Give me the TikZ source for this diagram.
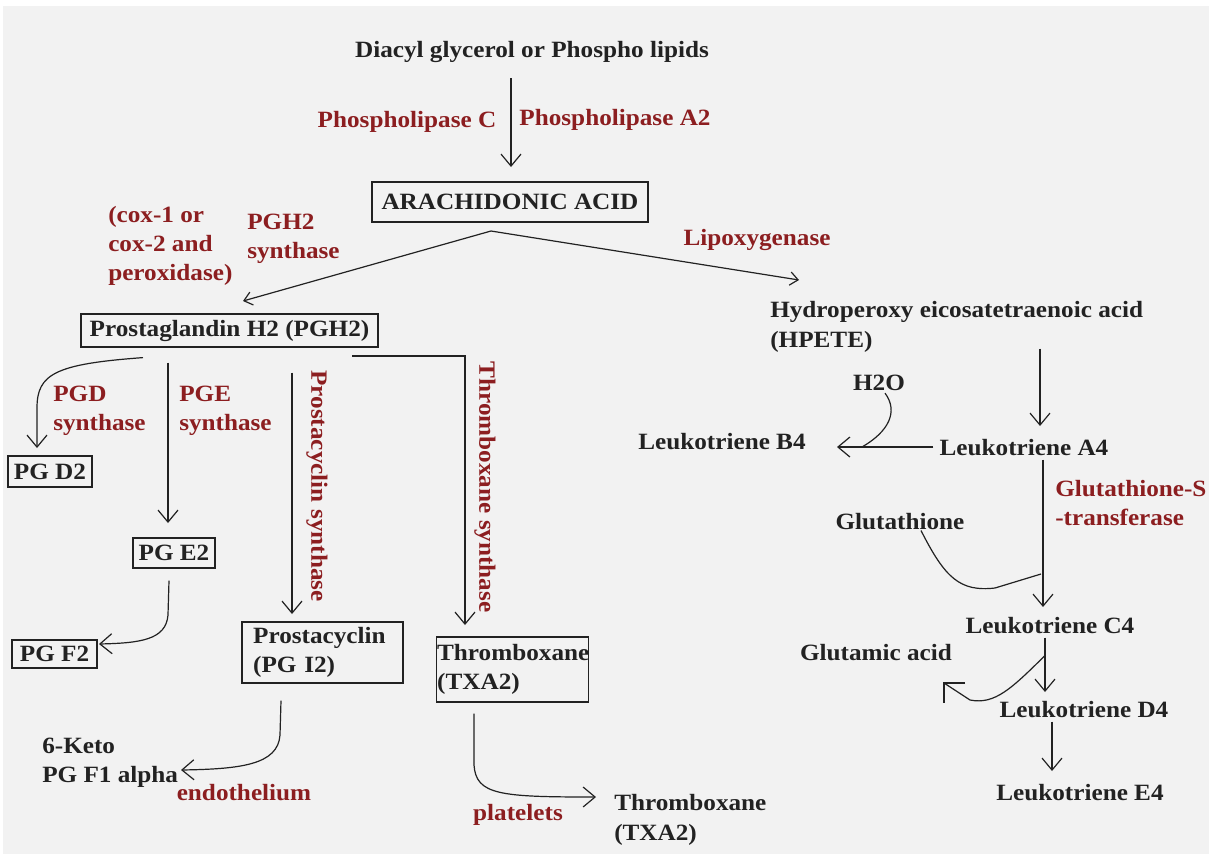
\documentclass[tikz,border=0pt]{standalone}
\usepackage{fontspec}
\setmainfont[FakeStretch=1.08]{Liberation Serif}
\usetikzlibrary{arrows.meta}
\definecolor{bgc}{RGB}{242,242,242}
\definecolor{ink}{RGB}{34,34,34}
\definecolor{enz}{RGB}{140,30,32}
\tikzset{
  lbl/.style={inner sep=0pt, text=ink, font=\fontsize{17.5}{22}\selectfont\bfseries},
  red/.style={lbl, text=enz},
  box/.style={lbl, draw=ink, line width=0.9pt},
  con/.style={draw=ink, line width=0.9pt},
  arr/.style={con, -{Straight Barb[length=9pt,width=15pt,line width=0.9pt]}},
  sarr/.style={con, -{Straight Barb[length=6pt,width=10pt,line width=0.9pt]}}
}
\begin{document}
\begin{tikzpicture}[x=0.75pt,y=-0.75pt]
\useasboundingbox (0,0) rectangle (1209,854);
\fill[bgc] (3,6) rectangle (1209,854);

% ---- top
\node[lbl] (top) at (532,52) {Diacyl glycerol or Phospho lipids};
\node[red] (plc) at (407,122) {Phospholipase C};
\node[red] (pla2) at (615,120) {Phospholipase A2};
\node[box, minimum width=207pt, minimum height=30pt] (arach) at (510,202) {ARACHIDONIC ACID};
\coordinate (topout) at (511,78);
\coordinate (arachin) at (511,167);
\draw[arr] (topout) -- (arachin);

% ---- branch
\node[red, anchor=west, align=left] (cox) at (108,246) {(cox-1 or\\cox-2 and\\peroxidase)};
\node[red, anchor=west, align=left] (pgh2s) at (247,239) {PGH2\\synthase};
\node[red] (lipox) at (757,240) {Lipoxygenase};
\node[box, minimum width=222.75pt, minimum height=24.75pt] (pgh2) at (229.5,330.5) {Prostaglandin H2 (PGH2)};
\node[lbl, anchor=west, align=left] (hpete) at (770,327) {Hydroperoxy eicosatetraenoic acid\\(HPETE)};
\coordinate (split) at (491,231);
\coordinate (pgh2in) at (243,301);
\coordinate (hpetein) at (799,280);
\draw[sarr] (split) -- (pgh2in);
\draw[sarr] (split) -- (hpetein);

% ---- prostaglandin side
\node[red, anchor=west, align=left] (pgds) at (53,411) {PGD\\synthase};
\node[red, anchor=west, align=left] (pges) at (179,411) {PGE\\synthase};
\node[red, rotate=-90] (pcs) at (317,486) {Prostacyclin synthase};
\node[red, rotate=-90] (txs) at (485,487) {Thromboxane synthase};
\node[box, minimum width=63pt, minimum height=23.25pt] (pgd2) at (50,471.5) {PG D2};
\node[box, minimum width=61.5pt, minimum height=22.5pt] (pge2) at (174,553) {PG E2};
\node[box, minimum width=63.75pt, minimum height=21pt] (pgf2) at (54.5,654) {PG F2};
\node[box, text width=104pt, inner xsep=8.4pt, minimum height=45.75pt, align=left] (pgi2) at (322.5,652.5) {Prostacyclin\\(PG I2)};
\node[box, text width=113pt, inner xsep=0.5pt, minimum height=48.75pt, align=left] (txa2) at (512.5,669.5) {Thromboxane\\(TXA2)};
\node[lbl, anchor=west, align=left] (keto) at (42,763) {6-Keto\\PG F1 alpha};
\node[red] (endo) at (244,793) {endothelium};
\node[red] (plat) at (518,815) {platelets};
\node[lbl, anchor=west, align=left] (txa2b) at (614,820) {Thromboxane\\(TXA2)};

\coordinate (pgd2in) at (37,448);
\draw[arr] (pgh2.south -| 143,0) ++(0,10) .. controls (55,364) and (37,374) .. (37,408) -- (pgd2in);
\draw[arr] (pgh2.south -| 168,0) ++(0,15) -- (168,523);
\draw[arr] (pge2.south -| 169,0) ++(0,12) -- (168,615) .. controls (166,640) and (140,643) .. (99,644);
\draw[arr] (pgh2.south -| 292,0) ++(0,25) -- (292,614);
\draw[arr] (352,356) -- (465,356) -- (465,625);
\draw[arr] (pgi2.south -| 281,0) ++(0,17) -- (280,735) .. controls (278,765) and (240,769) .. (181,770);
\draw[arr] (txa2.south -| 474,0) ++(0,11) -- (474,765) .. controls (476,795) and (500,797) .. (596,797);

% ---- leukotriene side
\node[lbl] (h2o) at (879,383) {H2O};
\node[lbl] (ltb4) at (722,442) {Leukotriene B4};
\node[lbl] (lta4) at (1024,448) {Leukotriene A4};
\node[red, anchor=west, align=left] (gst) at (1055,503) {Glutathione-S\\-transferase};
\node[lbl] (glut) at (900,522) {Glutathione};
\node[lbl] (ltc4) at (1050,626) {Leukotriene C4};
\node[lbl] (glu) at (876,653) {Glutamic acid};
\node[lbl] (ltd4) at (1084,710) {Leukotriene D4};
\node[lbl] (lte4) at (1080,793) {Leukotriene E4};

\draw[arr] (hpete.south -| 1040,0) ++(0,-4) -- (1040,426);
\draw[arr] (lta4.west) ++(-6,-1) -- (837,447);
\draw[con] (h2o.south) ++(6,2) .. controls (899,412) and (888,432) .. (862,447);
\draw[arr] (lta4.south -| 1043,0) ++(0,3) -- (1043,607);
\draw[con] (glut.south) ++(21,0) .. controls (945,578) and (960,592) .. (995,588) -- (1041,574);
\draw[arr] (ltc4.south -| 1045,0) ++(0,3) -- (1045,692);
\coordinate (glutip) at (944,683);
\draw[con] (ltc4.south -| 1045,0) ++(0,21) .. controls (1012,688) and (995,705) .. (970,700) -- (glutip);
\draw[con] (glutip) ++(21,0) -- (glutip) -- ++(0,20);
\draw[arr] (ltd4.south -| 1052,0) ++(0,3) -- (1052,771);
\end{tikzpicture}
\end{document}
